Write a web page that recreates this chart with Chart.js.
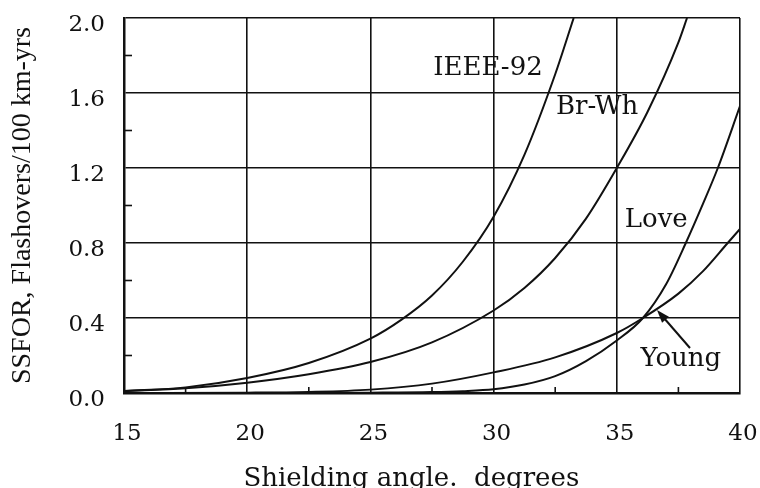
<!DOCTYPE html>
<html>
<head>
<meta charset="utf-8">
<script src="https://cdn.jsdelivr.net/npm/chart.js@4.4.1/dist/chart.umd.min.js"></script>
<style>
  html, body { margin: 0; padding: 0; background: #fff; }
</style>
</head>
<body>
<canvas id="myChart" width="760" height="488"></canvas>
<script>
// shielding angle (deg) vs SSFOR (flashovers / 100 km-yrs), one pair of arrays per method
const ieeeAngle = [15, 17.5, 20, 22.5, 25, 26.25, 27.5, 28.75, 30, 31.25, 32.5, 33.25];
const ieeeRate  = [0.01, 0.03, 0.08, 0.16, 0.29, 0.39, 0.52, 0.7, 0.94, 1.27, 1.7, 2.0];

const brwhAngle = [15, 17.5, 20, 22.5, 25, 27.5, 30, 31.25, 32.5, 33.75, 35, 36.25, 37.5, 37.85];
const brwhRate  = [0.01, 0.025, 0.055, 0.1, 0.165, 0.27, 0.44, 0.56, 0.72, 0.93, 1.2, 1.5, 1.87, 2.0];

const loveAngle = [15, 20, 25, 27.5, 28.75, 30, 31.25, 32.5, 33.75, 35, 36.06, 37, 37.8, 38.5, 39.1, 40];
const loveRate  = [0, 0, 0.002, 0.005, 0.01, 0.02, 0.045, 0.09, 0.17, 0.28, 0.4, 0.58, 0.8, 1.01, 1.2, 1.53];

const youngAngle = [15, 20, 22.5, 25, 27.5, 30, 32.5, 35, 36.06, 37.5, 38.5, 39.5, 40];
const youngRate  = [0, 0.002, 0.006, 0.018, 0.05, 0.11, 0.19, 0.32, 0.4, 0.53, 0.65, 0.8, 0.875];

const xTicks = [15, 20, 25, 30, 35, 40];
const yTicks = [0, 0.4, 0.8, 1.2, 1.6, 2.0];
const xMinor = [17.5, 22.5, 27.5, 32.5, 37.5];
const yMinor = [0.2, 0.6, 1.0, 1.4, 1.8];

// where the curve names sit (data units)
const curveNotes = [
    { text: 'IEEE-92', x: 29.77, y: 1.73 },
    { text: 'Br-Wh', x: 34.2, y: 1.523 },
    { text: 'Love', x: 36.6, y: 0.923 },
    { text: 'Young', x: 37.6, y: 0.179 },
];
const youngArrow = { from: { x: 37.97, y: 0.24 }, to: { x: 36.63, y: 0.443 } };

const INK = '#111';

const toPoints = (xs, ys) => xs.map((x, i) => ({ x: x, y: ys[i] }));

function curve(label, xs, ys) {
    return {
        label: label,
        data: toPoints(xs, ys),
        borderColor: INK,
        borderWidth: 2,
        pointRadius: 0,
        showLine: true,
        fill: false,
        cubicInterpolationMode: 'monotone',
    };
}

const data = {
    datasets: [
        curve('IEEE-92', ieeeAngle, ieeeRate),
        curve('Br-Wh', brwhAngle, brwhRate),
        curve('Love', loveAngle, loveRate),
        curve('Young', youngAngle, youngRate),
    ]
};

// curve names, the arrow pointing at Young, and the short inward minor ticks
const notesPlugin = {
    id: 'curveNotes',
    afterDatasetsDraw(chart) {
        const { ctx, chartArea, scales: { x, y } } = chart;
        ctx.save();
        ctx.fillStyle = INK;
        ctx.strokeStyle = INK;

        ctx.lineWidth = 1.6;
        xMinor.forEach(v => {
            const px = x.getPixelForValue(v);
            ctx.beginPath();
            ctx.moveTo(px, chartArea.bottom);
            ctx.lineTo(px, chartArea.bottom - 6);
            ctx.stroke();
        });
        yMinor.forEach(v => {
            const py = y.getPixelForValue(v);
            ctx.beginPath();
            ctx.moveTo(chartArea.left, py);
            ctx.lineTo(chartArea.left + 8, py);
            ctx.stroke();
        });

        ctx.font = '26px "DejaVu Serif"';
        ctx.textAlign = 'center';
        ctx.textBaseline = 'middle';
        curveNotes.forEach(n => {
            ctx.fillText(n.text, x.getPixelForValue(n.x), y.getPixelForValue(n.y));
        });

        const x0 = x.getPixelForValue(youngArrow.from.x), y0 = y.getPixelForValue(youngArrow.from.y);
        const x1 = x.getPixelForValue(youngArrow.to.x), y1 = y.getPixelForValue(youngArrow.to.y);
        const ang = Math.atan2(y1 - y0, x1 - x0);
        ctx.lineWidth = 2;
        ctx.beginPath();
        ctx.moveTo(x0, y0);
        ctx.lineTo(x1 - 8 * Math.cos(ang), y1 - 8 * Math.sin(ang));
        ctx.stroke();
        ctx.beginPath();
        ctx.moveTo(x1, y1);
        ctx.lineTo(x1 - 13 * Math.cos(ang) + 4.5 * Math.sin(ang), y1 - 13 * Math.sin(ang) - 4.5 * Math.cos(ang));
        ctx.lineTo(x1 - 13 * Math.cos(ang) - 4.5 * Math.sin(ang), y1 - 13 * Math.sin(ang) + 4.5 * Math.cos(ang));
        ctx.closePath();
        ctx.fill();
        ctx.restore();
    }
};

// fixed axis boxes, no extra room reserved for the end labels
function fixBox(size) {
    return scale => {
        if (scale.isHorizontal()) scale.height = size; else scale.width = size;
        scale.paddingLeft = 0;
        scale.paddingRight = 0;
        scale.paddingTop = 0;
        scale.paddingBottom = 0;
    };
}

const config = {
    type: 'scatter',
    data: data,
    options: {
        responsive: false,
        animation: false,
        layout: { padding: { top: 18, right: 20, left: 0, bottom: 0 } },
        plugins: {
            legend: { display: false },
            tooltip: { enabled: false },
        },
        scales: {
            x: {
                type: 'linear',
                min: 15,
                max: 40,
                afterBuildTicks: scale => { scale.ticks = xTicks.map(v => ({ value: v })); },
                afterFit: fixBox(95),
                grid: { color: INK, lineWidth: 1.6, drawTicks: false },
                border: { display: true, color: INK, width: 2.5 },
                ticks: {
                    color: INK,
                    padding: 27,
                    labelOffset: 3,
                    font: { family: '"DejaVu Serif"', size: 23 },
                    maxRotation: 0,
                },
                title: {
                    display: true,
                    // trailing spaces pull the centred title a little to the left
                    text: 'Shielding angle.  degrees     ',
                    color: INK,
                    font: { family: '"DejaVu Serif"', size: 26, lineHeight: 1 },
                    padding: { top: 0, bottom: -4 },
                },
            },
            y: {
                type: 'linear',
                min: 0,
                max: 2,
                afterBuildTicks: scale => { scale.ticks = yTicks.map(v => ({ value: v })); },
                afterFit: fixBox(124),
                grid: { color: INK, lineWidth: 1.6, drawTicks: false },
                border: { display: true, color: INK, width: 2.5 },
                ticks: {
                    color: INK,
                    padding: 19,
                    labelOffset: 7,
                    font: { family: '"DejaVu Serif"', size: 23 },
                    callback: v => v.toFixed(1),
                },
                title: {
                    display: true,
                    text: 'SSFOR, Flashovers/100 km-yrs',
                    color: INK,
                    font: { family: '"Liberation Serif"', size: 28, lineHeight: 1.2 },
                    padding: { top: 6, bottom: 0 },
                },
            }
        }
    },
    plugins: [notesPlugin],
};

const myChart = new Chart(
    document.getElementById('myChart'),
    config
);
</script>
</body>
</html>
